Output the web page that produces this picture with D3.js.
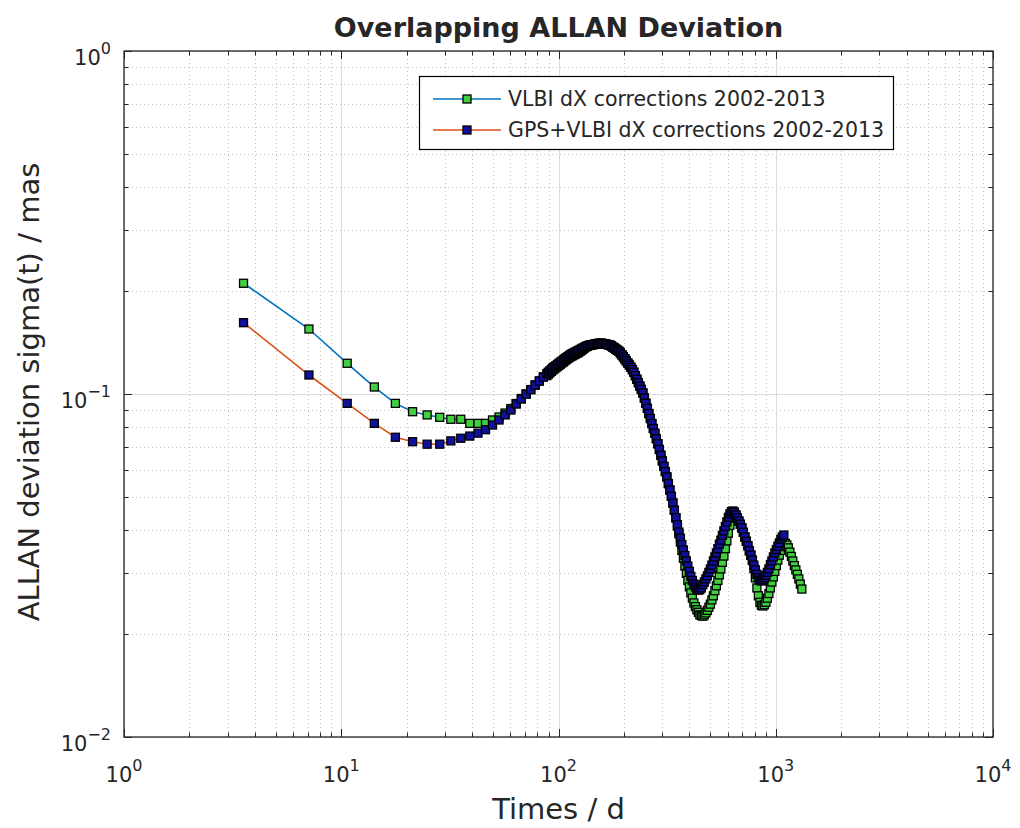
<!DOCTYPE html>
<html><head><meta charset="utf-8">
<script src="https://cdn.jsdelivr.net/npm/d3@7"></script>
<style>
body{margin:0;background:#fff}
svg{display:block}
text{font-family:"DejaVu Sans",sans-serif;fill:#262626}
</style>
</head><body>
<svg id="chart" width="1020" height="828"></svg>
<script>
// averaging times (days)
const tau = [3.55, 7.1, 10.65, 14.2, 17.75, 21.3, 24.85, 28.4, 31.95, 35.5, 39.05, 42.6, 46.15, 49.7, 53.25, 56.8, 60.35, 63.9, 67.45, 71.0, 74.55, 78.1, 81.65, 85.2,
  88.4, 89.8, 91.3, 92.8, 94.2, 95.7, 97.3, 98.9, 100.4, 102.0,
  103.7, 105.4, 107.0, 108.7, 110.5, 112.3, 114.0, 115.8, 117.7, 119.6,
  121.5, 123.4, 125.5, 127.5, 129.5, 131.6, 133.7, 135.8, 138.0, 140.2,
  142.5, 144.8, 147.1, 149.5, 151.8, 154.2, 156.7, 159.2, 161.8, 164.4,
  167.0, 169.7, 172.4, 175.2, 178.0, 180.9, 183.7, 186.6, 189.7, 192.7,
  195.8, 198.9, 202.1, 205.3, 208.7, 212.0, 215.4, 218.9, 222.3, 225.9,
  229.5, 233.2, 236.9, 240.7, 244.6, 248.5, 252.5, 256.5, 260.6, 264.8,
  269.0, 273.3, 277.7, 282.1, 286.7, 291.3, 296.0, 300.7, 305.5, 310.4,
  315.4, 320.5, 325.6, 330.8, 336.1, 341.5, 347.0, 352.6, 358.2, 364.0,
  369.7, 375.7, 381.7, 387.8, 394.0, 400.3, 406.7, 413.2, 419.9, 426.6,
  433.4, 440.4, 447.4, 454.6, 461.9, 469.3, 476.9, 484.5, 492.3, 500.2,
  508.2, 516.3, 524.6, 533.0, 541.5, 550.2, 559.0, 568.0, 577.1, 586.3,
  595.7, 605.3, 615.0, 624.9, 634.8, 645.0, 655.3, 665.8, 676.5, 687.3,
  698.3, 709.5, 720.9, 732.4, 744.2, 756.1, 768.4, 780.7, 793.2, 805.9,
  818.8, 831.9, 845.3, 858.8, 872.6, 886.6, 900.8, 915.2, 929.9, 944.8,
  959.6, 975.0, 990.6, 1006.5, 1022.6, 1039.0, 1055.6, 1072.5, 1089.7, 1107.2,
  1124.9, 1142.9, 1161.2, 1179.8, 1198.7, 1217.9, 1237.5, 1257.3, 1277.4, 1297.9,
  1318.6];

// VLBI dX corrections (mas)
const vlbi = [0.2103, 0.1547, 0.1229, 0.1048, 0.0939, 0.0888, 0.0869, 0.0855, 0.0844, 0.0844, 0.0821, 0.0821, 0.0821,
  0.0840, 0.0857, 0.0880, 0.0907, 0.0938, 0.0970, 0.1000, 0.1030, 0.1062, 0.1091, 0.1121,
  0.1131, 0.1142, 0.1153, 0.1164, 0.1175, 0.1184, 0.1193, 0.1203, 0.1212, 0.1221,
  0.1231, 0.1240, 0.1250, 0.1260, 0.1269, 0.1278, 0.1286, 0.1293, 0.1300, 0.1307,
  0.1314, 0.1321, 0.1330, 0.1340, 0.1350, 0.1362, 0.1372, 0.1380, 0.1385, 0.1388,
  0.1391, 0.1394, 0.1397, 0.1401, 0.1403, 0.1405, 0.1406, 0.1404, 0.1401, 0.1398,
  0.1395, 0.1392, 0.1389, 0.1380, 0.1370, 0.1361, 0.1351, 0.1342, 0.1332, 0.1317,
  0.1301, 0.1284, 0.1266, 0.1248, 0.1230, 0.1214, 0.1197, 0.1178, 0.1157, 0.1131,
  0.1104, 0.1079, 0.1054, 0.1031, 0.1007, 0.0973, 0.0940, 0.0908, 0.0877, 0.0848,
  0.0820, 0.0793, 0.0768, 0.0741, 0.0716, 0.0689, 0.0663, 0.0638, 0.0615, 0.0594,
  0.0573, 0.0548, 0.0525, 0.0503, 0.0481, 0.0458, 0.0435, 0.0412, 0.0391, 0.0370,
  0.0350, 0.0332, 0.0315, 0.0300, 0.0286, 0.0274, 0.0263, 0.0254, 0.0246, 0.0240,
  0.0235, 0.0231, 0.0227, 0.0226, 0.0225, 0.0227, 0.0230, 0.0234, 0.0239, 0.0244,
  0.0251, 0.0258, 0.0267, 0.0276, 0.0286, 0.0297, 0.0309, 0.0323, 0.0337, 0.0354,
  0.0373, 0.0393, 0.0414, 0.0435, 0.0451, 0.0452, 0.0444, 0.0435, 0.0426, 0.0417,
  0.0407, 0.0395, 0.0383, 0.0372, 0.0361, 0.0349, 0.0339, 0.0327, 0.0310, 0.0291,
  0.0272, 0.0258, 0.0247, 0.0242, 0.0241, 0.0243, 0.0247, 0.0254, 0.0262, 0.0272,
  0.0283, 0.0293, 0.0304, 0.0316, 0.0328, 0.0339, 0.0350, 0.0359, 0.0365, 0.0367,
  0.0363, 0.0356, 0.0346, 0.0336, 0.0326, 0.0316, 0.0307, 0.0298, 0.0289, 0.0279,
  0.0270];

// GPS+VLBI dX corrections (mas)
const gpsVlbi = [0.1614, 0.1136, 0.0939, 0.0821, 0.0748, 0.0726, 0.0714, 0.0714, 0.0730, 0.0743,
  0.0754, 0.0769, 0.0787, 0.0812, 0.0840, 0.0869, 0.0898, 0.0935, 0.0967, 0.1000, 0.1030, 0.1062, 0.1091, 0.1121,
  0.1147, 0.1158, 0.1169, 0.1180, 0.1191, 0.1200, 0.1209, 0.1219, 0.1228, 0.1238,
  0.1247, 0.1257, 0.1267, 0.1277, 0.1286, 0.1295, 0.1304, 0.1311, 0.1318, 0.1325,
  0.1332, 0.1339, 0.1346, 0.1354, 0.1361, 0.1368, 0.1375, 0.1380, 0.1385, 0.1388,
  0.1391, 0.1394, 0.1397, 0.1401, 0.1403, 0.1405, 0.1406, 0.1404, 0.1401, 0.1398,
  0.1395, 0.1392, 0.1389, 0.1380, 0.1370, 0.1361, 0.1351, 0.1342, 0.1332, 0.1317,
  0.1301, 0.1284, 0.1266, 0.1248, 0.1230, 0.1214, 0.1197, 0.1178, 0.1157, 0.1131,
  0.1104, 0.1079, 0.1054, 0.1031, 0.1007, 0.0973, 0.0940, 0.0908, 0.0877, 0.0848,
  0.0820, 0.0793, 0.0768, 0.0741, 0.0716, 0.0689, 0.0663, 0.0638, 0.0615, 0.0594,
  0.0573, 0.0548, 0.0525, 0.0503, 0.0481, 0.0458, 0.0436, 0.0416, 0.0396, 0.0380,
  0.0364, 0.0351, 0.0338, 0.0326, 0.0315, 0.0304, 0.0294, 0.0286, 0.0279, 0.0274,
  0.0270, 0.0268, 0.0269, 0.0272, 0.0278, 0.0283, 0.0289, 0.0295, 0.0302, 0.0309,
  0.0317, 0.0326, 0.0335, 0.0344, 0.0354, 0.0365, 0.0375, 0.0387, 0.0399, 0.0411,
  0.0424, 0.0437, 0.0447, 0.0454, 0.0456, 0.0452, 0.0444, 0.0435, 0.0426, 0.0417,
  0.0407, 0.0395, 0.0383, 0.0372, 0.0361, 0.0349, 0.0339, 0.0328, 0.0317, 0.0307,
  0.0298, 0.0291, 0.0286, 0.0285, 0.0287, 0.0291, 0.0296, 0.0302, 0.0309, 0.0318,
  0.0326, 0.0335, 0.0344, 0.0352, 0.0360, 0.0368, 0.0377, 0.0383, 0.0388];

const seriesNames = ["VLBI dX corrections 2002-2013", "GPS+VLBI dX corrections 2002-2013"];
const xTickExp = [0, 1, 2, 3, 4];
const yTickExp = [-2, -1, 0];
const chartTitle = "Overlapping ALLAN Deviation";
const xTitle = "Times / d";
const yTitle = "ALLAN deviation sigma(t) / mas";

const P = {l: 124, r: 993, t: 51, b: 737};
const svg = d3.select("#chart");

const x = d3.scaleLog().domain([1, 1e4]).range([P.l, P.r]);
const y = d3.scaleLog().domain([1e-2, 1]).range([P.b, P.t]);

const xAll = x.ticks();
const yAll = y.ticks();
const isMajor = v => Math.abs(Math.log10(v) - Math.round(Math.log10(v))) < 1e-9;

// grid
const g = svg.append("g");
g.selectAll(".xminor").data(xAll.filter(v => !isMajor(v))).join("line")
  .attr("x1", d => Math.round(x(d)) + 0.5).attr("x2", d => Math.round(x(d)) + 0.5)
  .attr("y1", P.t).attr("y2", P.b)
  .attr("stroke", "#c4c4c4").attr("stroke-width", 1).attr("stroke-dasharray", "1,3");
g.selectAll(".yminor").data(yAll.filter(v => !isMajor(v))).join("line")
  .attr("y1", d => Math.round(y(d)) + 0.5).attr("y2", d => Math.round(y(d)) + 0.5)
  .attr("x1", P.l).attr("x2", P.r)
  .attr("stroke", "#c4c4c4").attr("stroke-width", 1).attr("stroke-dasharray", "1,3");
g.selectAll(".xmajor").data(xAll.filter(v => isMajor(v))).join("line")
  .attr("x1", d => Math.round(x(d)) + 0.5).attr("x2", d => Math.round(x(d)) + 0.5)
  .attr("y1", P.t).attr("y2", P.b).attr("stroke", "#dcdcdc").attr("stroke-width", 1);
g.selectAll(".ymajor").data(yAll.filter(v => isMajor(v))).join("line")
  .attr("y1", d => Math.round(y(d)) + 0.5).attr("y2", d => Math.round(y(d)) + 0.5)
  .attr("x1", P.l).attr("x2", P.r).attr("stroke", "#dcdcdc").attr("stroke-width", 1);

svg.append("clipPath").attr("id", "clip").append("rect")
  .attr("x", P.l).attr("y", P.t).attr("width", P.r - P.l).attr("height", P.b - P.t);

const series = [
  {name: seriesNames[0], vals: vlbi, line: "#0072BD", face: "#3fcf3f"},
  {name: seriesNames[1], vals: gpsVlbi, line: "#D95319", face: "#10109c"}
];
const MS = 8;
const plot = svg.append("g").attr("clip-path", "url(#clip)");
series.forEach(s => {
  const pts = s.vals.map((v, i) => [tau[i], v]);
  const sg = plot.append("g");
  sg.append("path").datum(pts)
    .attr("d", d3.line().x(d => x(d[0])).y(d => y(d[1])))
    .attr("fill", "none").attr("stroke", s.line).attr("stroke-width", 1.6);
  sg.selectAll("rect").data(pts).join("rect")
    .attr("x", d => x(d[0]) - MS / 2).attr("y", d => y(d[1]) - MS / 2)
    .attr("width", MS).attr("height", MS)
    .attr("fill", s.face).attr("stroke", "#000").attr("stroke-width", 1.3);
});

// axes box & ticks
const ax = svg.append("g");
const tickLen = d => isMajor(d) ? 8 : 4.5;
xAll.forEach(d => {
  const xx = Math.round(x(d)) + 0.5;
  ax.append("line").attr("x1", xx).attr("x2", xx).attr("y1", P.b).attr("y2", P.b - tickLen(d)).attr("stroke", "#262626");
  ax.append("line").attr("x1", xx).attr("x2", xx).attr("y1", P.t).attr("y2", P.t + tickLen(d)).attr("stroke", "#262626");
});
yAll.forEach(d => {
  const yy = Math.round(y(d)) + 0.5;
  ax.append("line").attr("y1", yy).attr("y2", yy).attr("x1", P.l).attr("x2", P.l + tickLen(d)).attr("stroke", "#262626");
  ax.append("line").attr("y1", yy).attr("y2", yy).attr("x1", P.r).attr("x2", P.r - tickLen(d)).attr("stroke", "#262626");
});
ax.append("rect").attr("x", P.l).attr("y", P.t).attr("width", P.r - P.l).attr("height", P.b - P.t)
  .attr("fill", "none").attr("stroke", "#262626").attr("stroke-width", 1.3);

// tick labels
xTickExp.forEach(e => {
  const t = svg.append("text").attr("x", x(Math.pow(10, e))).attr("y", 782)
    .attr("text-anchor", "middle").attr("font-size", 21);
  t.append("tspan").text("10");
  t.append("tspan").attr("dy", -11).attr("font-size", 16).text(String(e).replace("-", "\u2212"));
});
yTickExp.forEach(e => {
  const t = svg.append("text").attr("x", 111).attr("y", y(Math.pow(10, e)) + 14)
    .attr("text-anchor", "end").attr("font-size", 21);
  t.append("tspan").text("10");
  t.append("tspan").attr("dy", -11).attr("font-size", 16).text(String(e).replace("-", "\u2212"));
});

// titles
svg.append("text").attr("x", (P.l + P.r) / 2).attr("y", 37).attr("text-anchor", "middle")
  .attr("font-size", 27).attr("font-weight", "bold").attr("fill", "#000").text(chartTitle);
svg.append("text").attr("x", (P.l + P.r) / 2).attr("y", 819).attr("text-anchor", "middle")
  .attr("font-size", 29).text(xTitle);
svg.append("text").attr("transform", `translate(39,${(P.t + P.b) / 2 - 2}) rotate(-90)`)
  .attr("text-anchor", "middle").attr("font-size", 29).text(yTitle);

// legend
const lg = svg.append("g");
lg.append("rect").attr("x", 419.5).attr("y", 76.5).attr("width", 474).attr("height", 73)
  .attr("fill", "#fff").attr("stroke", "#000").attr("stroke-width", 1.2);
series.forEach((s, i) => {
  const yy = 99 + i * 31;
  lg.append("line").attr("x1", 433).attr("x2", 501).attr("y1", yy).attr("y2", yy)
    .attr("stroke", s.line).attr("stroke-width", 1.6);
  lg.append("rect").attr("x", 467 - MS / 2).attr("y", yy - MS / 2).attr("width", MS).attr("height", MS)
    .attr("fill", s.face).attr("stroke", "#000").attr("stroke-width", 1.3);
  lg.append("text").attr("x", 508).attr("y", yy + 7).attr("font-size", 20.5).text(s.name);
});
</script>
</body></html>
